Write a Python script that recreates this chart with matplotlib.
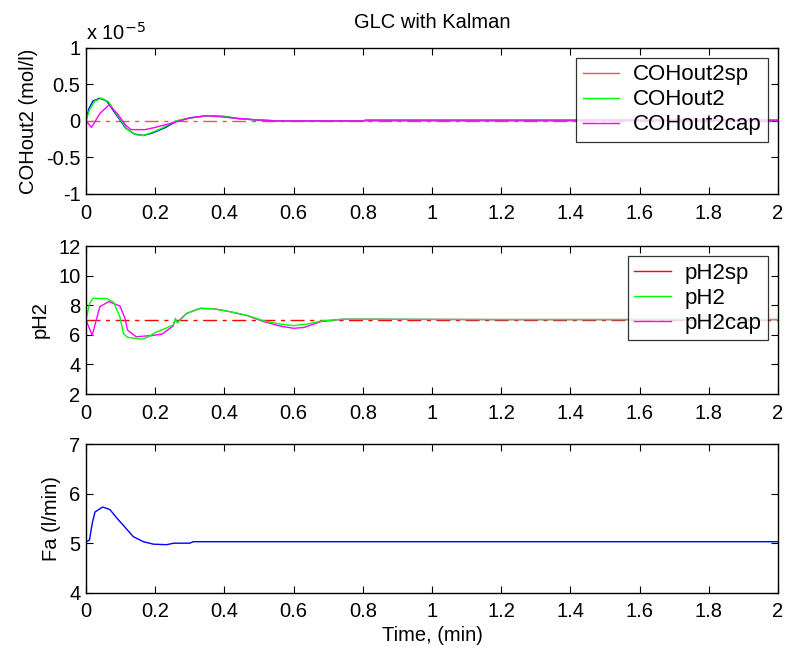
import numpy as np
import matplotlib.pyplot as plt

plt.rcParams["font.family"] = ["Liberation Sans", "DejaVu Sans"]
plt.rcParams["font.size"] = 14.5

T_END = 2.0

# COHout2 panel, values in units of 1e-5 mol/l
coh_sp_t = [0.0, 2.0]
coh_sp = [0.0, 0.0]

coh_t = [0.0, 0.01, 0.025, 0.045, 0.065, 0.09, 0.12, 0.145, 0.165, 0.19, 0.22,
         0.26, 0.30, 0.35, 0.40, 0.44, 0.50, 0.55, 0.80, 0.81, 1.2, 1.6, 2.0]
coh = [0.0, 0.15, 0.27, 0.31, 0.26, 0.08, -0.12, -0.19, -0.2, -0.16, -0.1,
       0.0, 0.04, 0.07, 0.06, 0.03, 0.01, 0.0, 0.0, 0.01, 0.01, 0.01, 0.01]

coh_blue_t = [0.0, 0.008, 0.02, 0.04, 0.06, 0.085, 0.115, 0.14, 0.165, 0.19, 0.23,
              0.26, 0.30, 0.35, 0.40, 0.44, 0.50, 0.55, 0.80, 0.81, 1.2, 1.6, 2.0]
coh_blue = [0.0, 0.16, 0.27, 0.31, 0.27, 0.1, -0.1, -0.18, -0.2, -0.17, -0.09,
            -0.01, 0.04, 0.07, 0.06, 0.03, 0.01, 0.0, 0.0, 0.01, 0.01, 0.01, 0.01]

cohcap_t = [0.0, 0.016, 0.04, 0.067, 0.09, 0.115, 0.13, 0.17, 0.2, 0.24,
            0.30, 0.35, 0.40, 0.50, 0.55, 1.5, 1.51, 2.0]
cohcap = [0.0, -0.09, 0.1, 0.22, 0.1, -0.06, -0.12, -0.12, -0.09, -0.04,
          0.04, 0.07, 0.05, 0.01, 0.0, 0.0, 0.0, 0.0]

# pH2 panel
ph_sp_t = [0.0, 2.0]
ph_sp = [7.0, 7.0]

ph_t = [0.0, 0.01, 0.021, 0.06, 0.08, 0.098, 0.108, 0.12, 0.161, 0.18, 0.20,
        0.252, 0.258, 0.264, 0.291, 0.33, 0.37, 0.417, 0.465, 0.513, 0.56,
        0.60, 0.64, 0.68, 0.74, 0.85, 1.2, 1.6, 2.0]
ph = [7.0, 8.1, 8.47, 8.45, 8.2, 7.22, 6.1, 5.83, 5.7, 5.85, 6.15,
      6.66, 7.1, 6.8, 7.45, 7.79, 7.75, 7.56, 7.32, 6.95, 6.73,
      6.62, 6.73, 6.93, 7.05, 7.05, 7.03, 7.03, 7.03]

phcap_t = [0.0, 0.018, 0.04, 0.066, 0.098, 0.113, 0.12, 0.145, 0.19, 0.22,
           0.252, 0.258, 0.264, 0.291, 0.33, 0.37, 0.417, 0.465, 0.513, 0.56,
           0.60, 0.63, 0.68, 0.74, 0.85, 1.2, 1.6, 2.0]
phcap = [7.0, 5.97, 7.9, 8.25, 7.95, 7.1, 6.32, 5.87, 5.95, 6.05,
         6.6, 7.05, 6.85, 7.45, 7.79, 7.76, 7.56, 7.3, 6.9, 6.6,
         6.44, 6.5, 6.9, 7.05, 7.05, 7.03, 7.03, 7.03]

# Fa panel
fa_t = [0.0, 0.01, 0.018, 0.026, 0.048, 0.069, 0.09, 0.108, 0.137, 0.166,
        0.195, 0.233, 0.254, 0.30, 0.31, 1.0, 2.0]
fa = [5.03, 5.06, 5.4, 5.63, 5.73, 5.68, 5.5, 5.36, 5.13, 5.03,
      4.98, 4.97, 5.0, 5.0, 5.03, 5.03, 5.03]

x_ticks = [0, 0.2, 0.4, 0.6, 0.8, 1, 1.2, 1.4, 1.6, 1.8, 2]
x_labels = ["0", "0.2", "0.4", "0.6", "0.8", "1", "1.2", "1.4", "1.6", "1.8", "2"]

SP_DASH = (0, (10, 4, 3, 4))


def style_axis(ax, ylim, yticks, ylabels):
    ax.set_xlim(0, T_END)
    ax.set_ylim(*ylim)
    ax.set_xticks(x_ticks)
    ax.set_xticklabels(x_labels)
    ax.set_yticks(yticks)
    ax.set_yticklabels(ylabels)
    ax.tick_params(direction="in", top=True, right=True, length=5, width=0.8)
    ax.tick_params(axis="x", pad=7)
    ax.tick_params(axis="y", pad=4)
    for s in ax.spines.values():
        s.set_linewidth(1.0)


def add_legend(ax):
    leg = ax.legend(loc="upper right", fancybox=False, edgecolor="black",
                    fontsize=16, handlelength=1.65, handletextpad=0.6,
                    borderpad=0.3, labelspacing=0.18, borderaxespad=0.45)
    leg.get_frame().set_linewidth(0.9)
    leg.get_lines()[0].set_linestyle("-")
    return leg


fig = plt.figure(figsize=(7.86, 6.49), dpi=100)
left, width = 0.1094, 0.8804
ax1 = fig.add_axes([left, 0.7011, width, 0.2254])
ax2 = fig.add_axes([left, 0.3929, width, 0.228])
ax3 = fig.add_axes([left, 0.0867, width, 0.229])

# top
ax1.plot(coh_sp_t, coh_sp, color="#ff5050", lw=1.0, ls=SP_DASH, label="COHout2sp")
ax1.plot(coh_blue_t, coh_blue, color="#0000ff", lw=1.0)
ax1.plot(coh_t, coh, color="#00ff00", lw=1.0, label="COHout2")
ax1.plot(cohcap_t, cohcap, color="#ff00ff", lw=1.0, label="COHout2cap")
style_axis(ax1, (-1, 1), [-1, -0.5, 0, 0.5, 1], ["-1", "-0.5", "0", "0.5", "1"])
ax1.set_ylabel("COHout2 (mol/l)", labelpad=6)
ax1.set_title("GLC with Kalman", fontsize=14.5, pad=14)
ax1.text(0.0, 1.03, "x 10$^{-5}$", transform=ax1.transAxes, ha="left", va="bottom")
add_legend(ax1)

# middle
ax2.plot(ph_sp_t, ph_sp, color="#ff0000", lw=1.0, ls=SP_DASH, label="pH2sp")
ax2.plot(phcap_t, phcap, color="#ff00ff", lw=1.0)
ax2.plot(ph_t, ph, color="#00ff00", lw=1.0, label="pH2")
ax2.plot([], [], color="#ff00ff", lw=1.0, label="pH2cap")
style_axis(ax2, (2, 12), [2, 4, 6, 8, 10, 12], ["2", "4", "6", "8", "10", "12"])
ax2.set_ylabel("pH2", labelpad=6)
add_legend(ax2)

# bottom
ax3.plot(fa_t, fa, color="#0000ff", lw=1.0)
style_axis(ax3, (4, 7), [4, 5, 6, 7], ["4", "5", "6", "7"])
ax3.set_ylabel("Fa (l/min)", labelpad=6)
ax3.set_xlabel("Time, (min)", labelpad=3)

fig.savefig("out.png", dpi=100)
